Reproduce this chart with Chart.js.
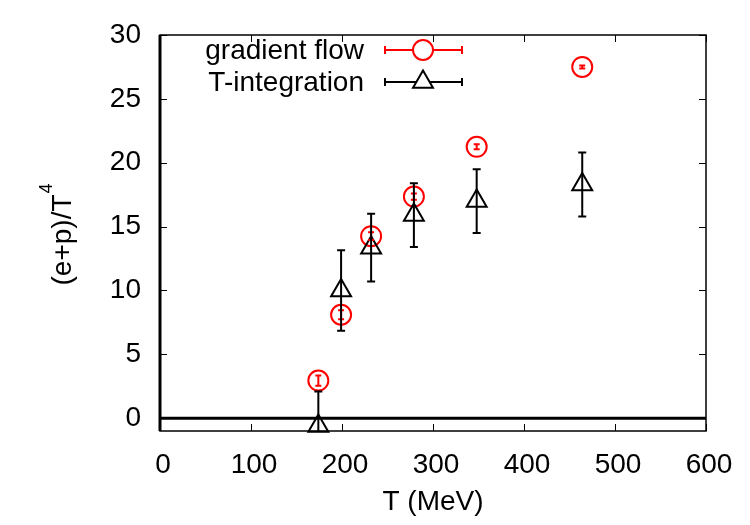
<!DOCTYPE html>
<html>
<head>
<meta charset="utf-8">
<script src="https://cdn.jsdelivr.net/npm/chart.js@4.4.1/dist/chart.umd.min.js"></script>
<style>
html,body{margin:0;padding:0;background:#fff}
</style>
</head>
<body>
<canvas id="chart" width="750" height="525"></canvas>
<script>
// temperatures (MeV) and (e+p)/T^4
const temps=[174,199,232,279,348,464]
const gradFlow=[2.95,8.1,14.25,17.35,21.25,27.5]
const gradFlowErr=[0.4,0.35,0.3,0.25,0.2,0.12]
const tInteg=[-0.6,10.0,13.35,15.9,17.0,18.3]
const tIntegErr=[2.7,3.15,2.65,2.5,2.5,2.5]
const xTicks=[0,100,200,300,400,500,600]
const yTicks=[0,5,10,15,20,25,30]
const names=["gradient flow","T-integration"]

const FONT="'Liberation Sans', Arial, sans-serif"
const FS=28
const RED="#ff0000"

Chart.defaults.font.family=FONT
Chart.defaults.font.size=FS
Chart.defaults.color="#000"

const pts=(ys)=>temps.map((t,i)=>({x:t,y:ys[i]}))

// frame, inward ticks, zero axes
const framePlugin={
id:"frame",
beforeDatasetsDraw(chart){
const {ctx,chartArea:a,scales:{x,y}}=chart
ctx.save()
ctx.strokeStyle="#000"
ctx.lineWidth=1
xTicks.forEach(v=>{
const px=Math.round(x.getPixelForValue(v))+0.5
ctx.beginPath()
ctx.moveTo(px,a.bottom);ctx.lineTo(px,a.bottom-7)
ctx.moveTo(px,a.top);ctx.lineTo(px,a.top+7)
ctx.stroke()
})
yTicks.forEach(v=>{
const py=Math.round(y.getPixelForValue(v))+0.5
ctx.beginPath()
ctx.moveTo(a.left,py);ctx.lineTo(a.left+7,py)
ctx.moveTo(a.right,py);ctx.lineTo(a.right-7,py)
ctx.stroke()
})
ctx.lineWidth=1.5
ctx.strokeRect(a.left,a.top,a.right-a.left,a.bottom-a.top)
// zero lines
ctx.lineWidth=3
const y0=y.getPixelForValue(0)
ctx.beginPath();ctx.moveTo(a.left,y0);ctx.lineTo(a.right,y0);ctx.stroke()
const x0=x.getPixelForValue(0)
ctx.beginPath();ctx.moveTo(x0,a.top);ctx.lineTo(x0,a.bottom);ctx.stroke()
ctx.restore()
}
}

// vertical error bars
const errPlugin={
id:"errbars",
afterDatasetsDraw(chart){
const {ctx,chartArea:a,scales:{x,y}}=chart
ctx.save()
ctx.beginPath()
ctx.rect(a.left,a.top,a.right-a.left,a.bottom-a.top)
ctx.clip()
const sets=[[gradFlow,gradFlowErr,RED,3],[tInteg,tIntegErr,"#000",4]]
sets.forEach(([vals,errs,col,cap])=>{
ctx.strokeStyle=col
ctx.lineWidth=2
temps.forEach((t,i)=>{
const px=x.getPixelForValue(t)
const lo=y.getPixelForValue(vals[i]-errs[i])
const hi=y.getPixelForValue(vals[i]+errs[i])
ctx.beginPath()
ctx.moveTo(px,lo);ctx.lineTo(px,hi)
ctx.moveTo(px-cap,lo);ctx.lineTo(px+cap,lo)
ctx.moveTo(px-cap,hi);ctx.lineTo(px+cap,hi)
ctx.stroke()
})
})
ctx.restore()
}
}

// legend, axis titles
const textPlugin={
id:"texts",
afterDraw(chart){
const {ctx,chartArea:a}=chart
ctx.save()
ctx.font=FS+"px "+FONT
// legend
const rows=[[50,RED,"circle",10],[82,"#000","triangle",11.5]]
rows.forEach(([ly,col,style,r],i)=>{
ctx.textAlign="right"
ctx.textBaseline="middle"
ctx.fillStyle="#000"
ctx.fillText(names[i],364,ly+1)
ctx.strokeStyle=col
ctx.lineWidth=2
ctx.beginPath()
ctx.moveTo(385,ly);ctx.lineTo(462,ly)
ctx.moveTo(385,ly-4);ctx.lineTo(385,ly+4)
ctx.moveTo(462,ly-4);ctx.lineTo(462,ly+4)
ctx.stroke()
ctx.fillStyle="#fff"
Chart.helpers.drawPoint(ctx,{pointStyle:style,radius:r,borderWidth:2},423,ly)
})
ctx.fillStyle="#000"
// x title
ctx.textAlign="center"
ctx.textBaseline="alphabetic"
ctx.fillText("T (MeV)",(a.left+a.right)/2,510)
// y title with superscript
ctx.translate(71,235)
ctx.rotate(-Math.PI/2)
ctx.textAlign="left"
const main="(e+p)/T"
const mw=ctx.measureText(main).width
ctx.font="18px "+FONT
const sw=ctx.measureText("4").width
const start=-(mw+sw)/2
ctx.font=FS+"px "+FONT
ctx.fillText(main,start,0)
ctx.font="18px "+FONT
ctx.fillText("4",start+mw+1,-19)
ctx.restore()
}
}

new Chart(document.getElementById("chart"),{
type:"scatter",
data:{
datasets:[
{
label:names[1],
data:pts(tInteg),
pointStyle:"triangle",
pointRadius:11.5,
pointHoverRadius:11.5,
borderColor:"#000",
backgroundColor:"rgba(0,0,0,0)",
borderWidth:2,
showLine:false,
clip:false
},
{
label:names[0],
data:pts(gradFlow),
pointStyle:"circle",
pointRadius:10,
pointHoverRadius:10,
borderColor:RED,
backgroundColor:"rgba(0,0,0,0)",
borderWidth:2,
showLine:false,
clip:false
}
]
},
options:{
responsive:false,
animation:false,
devicePixelRatio:1,
layout:{padding:{top:35,right:44,left:0,bottom:0}},
plugins:{legend:{display:false},tooltip:{enabled:false}},
scales:{
x:{
type:"linear",
min:0,
max:600,
afterBuildTicks(s){s.ticks=xTicks.map(v=>({value:v}))},
afterFit(s){s.height=94},
grid:{display:false},
border:{display:false},
ticks:{padding:9,labelOffset:3,maxRotation:0,color:"#000"}
},
y:{
type:"linear",
min:-1,
max:30,
afterBuildTicks(s){s.ticks=yTicks.map(v=>({value:v}))},
afterFit(s){s.width=160},
grid:{display:false},
border:{display:false},
ticks:{padding:11,color:"#000"}
}
}
},
plugins:[framePlugin,errPlugin,textPlugin]
})
</script>
</body>
</html>
